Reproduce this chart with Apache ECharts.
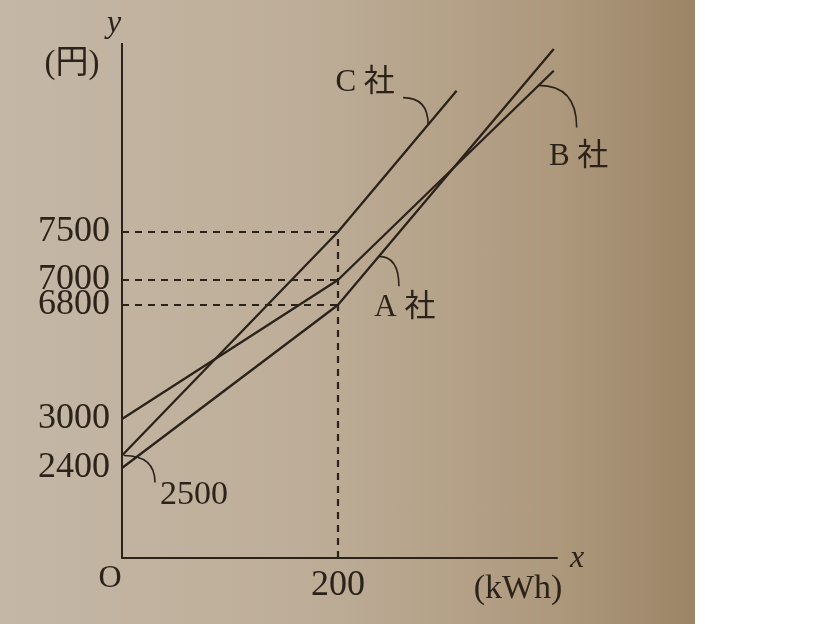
<!DOCTYPE html>
<html>
<head>
<meta charset="utf-8">
<style>
  html, body { margin: 0; padding: 0; background: #fff; }
  #chart {
    width: 819px; height: 624px;
    background: linear-gradient(to right, #c4b7a6 0px, #beae99 300px, #ad987c 560px, #9c8466 695px, #fff 695px, #fff 819px);
  }
</style>
<script src="https://cdn.jsdelivr.net/npm/echarts@6/dist/echarts.min.js"></script>
</head>
<body>
<div id="chart"></div>
<script>
// 使用量 (kWh)
const usage = [0, 200, 400];
const usageC = [0, 200, 310];
// 料金 (円)
const costA = [2400, 6800, 11110];
const costB = [3000, 7000, 10660];
const costC = [2500, 7500, 10250];
// 軸の目盛り
const yTickLabels = [2400, 3000, 6800, 7000, 7500];
const xTickLabels = [200];
const names = ['A 社', 'B 社', 'C 社'];

const yMax = 11200;
const ink = '#2b2219';
const serif = "'Liberation Serif', 'DejaVu Serif', 'Noto Sans CJK JP', serif";

const pairs = (xs, ys) => xs.map((x, i) => [x, ys[i]]);

// x = 200 の点線と y 軸
const kink = xTickLabels[0];
const atKink = [costA[1], costB[1], costC[1]];
const guideLines = atKink.map(v => [{ coord: [0, v] }, { coord: [kink, v] }]);
guideLines.push([{ coord: [kink, 0] }, { coord: [kink, Math.max(...atKink)] }]);
guideLines.push([{ coord: [0, 0], lineStyle: { type: 'solid', width: 2 } }, { coord: [0, yMax] }]);

const lineSeries = (name, xs, ys, extra) => Object.assign({
  name: name,
  type: 'line',
  data: pairs(xs, ys),
  symbol: 'none',
  silent: true,
  lineStyle: { color: ink, width: 2.3 },
  z: 3
}, extra || {});

const option = {
  animation: false,
  grid: { left: 122, right: 262, top: 43, bottom: 66 },
  xAxis: {
    type: 'value',
    min: 0,
    max: 403,
    splitLine: { show: false },
    axisTick: { show: false },
    axisLine: { lineStyle: { color: ink, width: 2 } },
    axisLabel: {
      customValues: xTickLabels,
      color: ink,
      fontFamily: serif,
      fontSize: 36,
      margin: 10,
      formatter: v => String(v)
    }
  },
  yAxis: {
    type: 'value',
    min: 0,
    max: yMax,
    // 模式図なので目盛りの間隔は一定ではない
    breaks: [
      { start: 100, end: 2300, gap: 520 },
      { start: 2600, end: 2900, gap: 92 },
      { start: 3100, end: 6700, gap: 712 },
      { start: 7100, end: 7400, gap: 184 },
      { start: 7600, end: 11180, gap: 1392 }
    ],
    breakArea: {
      show: false,
      itemStyle: { color: 'rgba(0,0,0,0)', borderColor: 'rgba(0,0,0,0)', borderWidth: 0, opacity: 0 },
      zigzagAmplitude: 0
    },
    breakLabelLayout: { moveOverlap: false },
    splitLine: { show: false },
    axisTick: { show: false },
    axisLine: { show: false },
    axisLabel: {
      customValues: yTickLabels,
      color: ink,
      fontFamily: serif,
      fontSize: 36,
      lineHeight: 24,
      margin: 12,
      formatter: v => String(v)
    }
  },
  series: [
    lineSeries(names[0], usage, costA, {
      markLine: {
        symbol: 'none',
        silent: true,
        label: { show: false },
        lineStyle: { color: ink, width: 2.2, type: [7, 6] },
        data: guideLines
      }
    }),
    lineSeries(names[1], usage, costB),
    lineSeries(names[2], usageC, costC)
  ],
  graphic: [
    { type: 'text', x: 114, y: 24, style: { text: 'y', font: 'italic 32px ' + serif, fill: ink, align: 'center', verticalAlign: 'middle' } },
    { type: 'text', x: 72, y: 64, style: { text: '(円)', font: '33px ' + serif, fill: ink, align: 'center', verticalAlign: 'middle' } },
    { type: 'text', x: 577, y: 559, style: { text: 'x', font: 'italic 32px ' + serif, fill: ink, align: 'center', verticalAlign: 'middle' } },
    { type: 'text', x: 518, y: 589, style: { text: '(kWh)', font: '34px ' + serif, fill: ink, align: 'center', verticalAlign: 'middle' } },
    { type: 'text', x: 110, y: 579, style: { text: 'O', font: '32px ' + serif, fill: ink, align: 'center', verticalAlign: 'middle' } }
  ]
};

const chart = echarts.init(document.getElementById('chart'));
chart.setOption(option);

// 引き出し線とラベル
const toPx = p => chart.convertToPixel({ gridIndex: 0 }, p);
const along = (p, q, t) => [p[0] + (q[0] - p[0]) * t, p[1] + (q[1] - p[1]) * t];
const leader = (from, to) => ({
  type: 'bezierCurve',
  silent: true,
  shape: { x1: from[0], y1: from[1], x2: to[0], y2: to[1], cpx1: to[0], cpy1: from[1] },
  style: { stroke: ink, lineWidth: 1.6, fill: null }
});
const label = (text, p, dx, dy) => ({
  type: 'text', x: p[0] + dx, y: p[1] + dy,
  style: { text: text, font: '31px ' + serif, fill: ink, align: 'center', verticalAlign: 'middle' }
});

const anchorA = along(toPx([usage[1], costA[1]]), toPx([usage[2], costA[2]]), 0.19);
const anchorB = along(toPx([usage[1], costB[1]]), toPx([usage[2], costB[2]]), 0.93);
const anchorC = along(toPx([usageC[1], costC[1]]), toPx([usageC[2], costC[2]]), 0.76);
const anchorC0 = toPx([usageC[0], costC[0]]);

chart.setOption({
  graphic: option.graphic.concat([
    leader([anchorC[0] - 25, anchorC[1] - 27], anchorC),
    label(names[2], anchorC, -63, -42),
    leader(anchorB, [anchorB[0] + 38, anchorB[1] + 42]),
    label(names[1], anchorB, 40, 71),
    leader(anchorA, [anchorA[0] + 20, anchorA[1] + 30]),
    label(names[0], anchorA, 26, 52),
    leader([anchorC0[0] + 2, anchorC0[1]], [anchorC0[0] + 33, anchorC0[1] + 27]),
    {
      type: 'text', x: anchorC0[0] + 72, y: anchorC0[1] + 40,
      style: { text: String(costC[0]), font: '34px ' + serif, fill: ink, align: 'center', verticalAlign: 'middle' }
    }
  ])
});
</script>
</body>
</html>
